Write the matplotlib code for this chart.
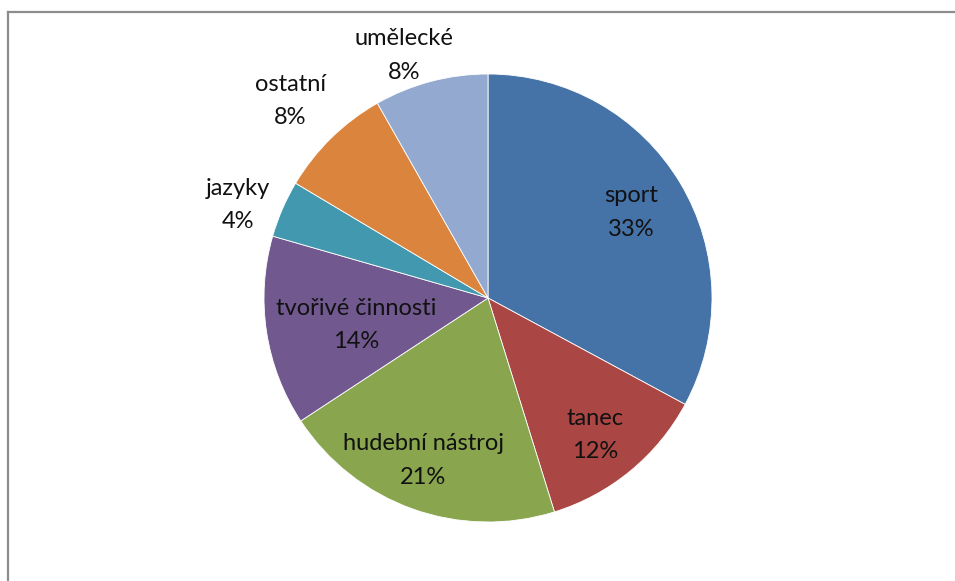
import numpy as np
import matplotlib
matplotlib.use('Agg')
import matplotlib.pyplot as plt
from matplotlib.lines import Line2D

labels = ['sport', 'tanec', 'hudební nástroj', 'tvořivé činnosti', 'jazyky', 'ostatní', 'umělecké']
counts = [24, 9, 15, 10, 3, 6, 6]
colors = ['#4572A7', '#AA4643', '#89A54E', '#71588F', '#4198AF', '#DB843D', '#93A9CF']
# label placement: fraction of radius and small angle nudge (deg)
label_dist = [0.745, 0.775, 0.78, 0.60, 1.19, 1.245, 1.145]
label_nudge = [0, -1.5, -2, 3, 3, 0.7, 4.3]

plt.rcParams['font.family'] = ['Lato', 'DejaVu Sans']

fig = plt.figure(figsize=(9.55, 5.81), dpi=100)
W, H = 955, 581
cx, cy, R = 488, 298, 224
ax = fig.add_axes([(cx - R) / W, (H - cy - R) / H, 2 * R / W, 2 * R / H])

wedges, _ = ax.pie(counts, colors=colors, startangle=90, counterclock=False,
                   wedgeprops=dict(edgecolor='white', linewidth=0.6), radius=1)
ax.set_xlim(-1, 1)
ax.set_ylim(-1, 1)
ax.set_aspect('equal')
ax.axis('off')

total = float(sum(counts))
cum = 0
for lab, v, d, nd in zip(labels, counts, label_dist, label_nudge):
    mid = 90 - 360 * (cum + v / 2) / total + nd
    cum += v
    a = np.deg2rad(mid)
    ax.text(d * np.cos(a), d * np.sin(a), '%s\n%d%%' % (lab, round(100 * v / total)),
            ha='center', va='center', fontsize=17, linespacing=1.75, color='#111111')

# chart area border (top and left visible)
fig.add_artist(Line2D([7.5 / W, 1], [1 - 11.5 / H, 1 - 11.5 / H], color='#8c8c8c', lw=1.6,
                      transform=fig.transFigure))
fig.add_artist(Line2D([7.5 / W, 7.5 / W], [0, 1 - 11.5 / H], color='#8c8c8c', lw=1.6,
                      transform=fig.transFigure))

fig.savefig('out.png', dpi=100, facecolor='white')
